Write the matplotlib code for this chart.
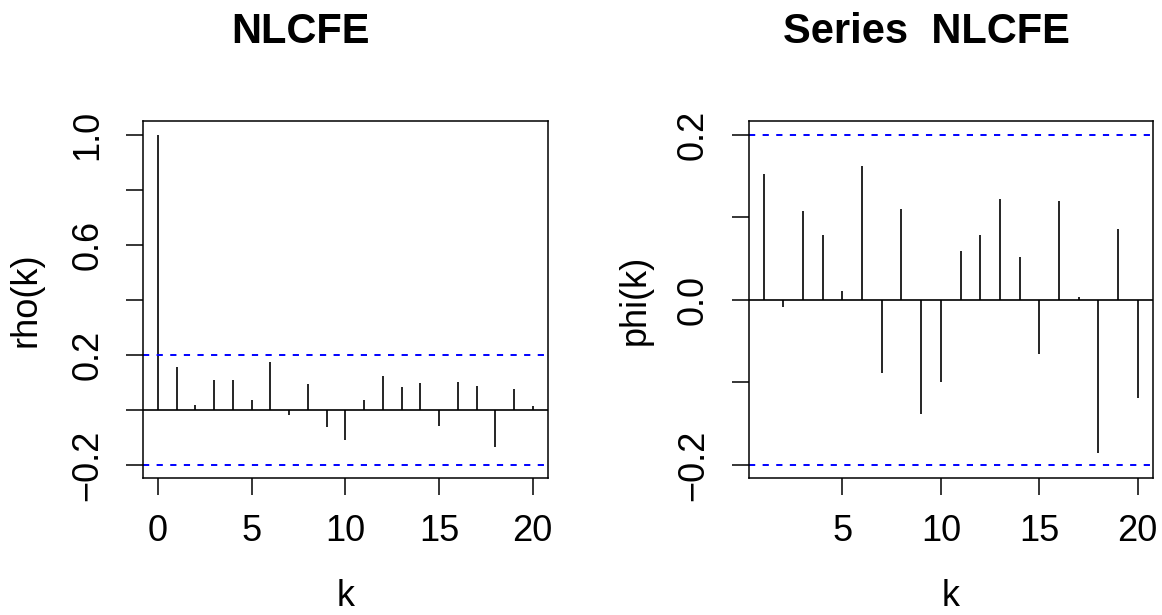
import matplotlib
matplotlib.use('Agg')
import matplotlib.pyplot as plt
from matplotlib import font_manager

# ---- data ----
acf_lags = list(range(0, 21))
acf_values = [1.0, 0.155, 0.018, 0.108, 0.109, 0.037, 0.173, -0.019, 0.094, -0.062,
              -0.109, 0.036, 0.124, 0.082, 0.097, -0.057, 0.103, 0.088, -0.133, 0.075, 0.015]
pacf_lags = list(range(1, 21))
pacf_values = [0.153, -0.0085, 0.108, 0.078, 0.0105, 0.162, -0.088, 0.110, -0.138, -0.100,
               0.059, 0.078, 0.122, 0.052, -0.065, 0.120, 0.003, -0.185, 0.086, -0.119]
conf_limit = 0.2

acf_xticks = [0, 5, 10, 15, 20]
pacf_xticks = [5, 10, 15, 20]
acf_yticks = [-0.2, 0.0, 0.2, 0.4, 0.6, 0.8, 1.0]
acf_yticklabels = ['\u22120.2', '', '0.2', '', '0.6', '', '1.0']
pacf_yticks = [-0.2, -0.1, 0.0, 0.1, 0.2]
pacf_yticklabels = ['\u22120.2', '', '0.0', '', '0.2']
titles = ['NLCFE', 'Series  NLCFE']
ylabels = ['rho(k)', 'phi(k)']
xlabel = 'k'


def has_font(name):
    try:
        font_manager.findfont(font_manager.FontProperties(family=name),
                              fallback_to_default=False)
        return True
    except Exception:
        return False


plt.rcParams['font.family'] = ['Liberation Sans', 'DejaVu Sans']
if has_font('Liberation Sans Narrow'):
    title_family = ['Liberation Sans Narrow', 'Liberation Sans']
    title_size = 33
else:
    title_family = ['Liberation Sans', 'DejaVu Sans']
    title_size = 30

W, H = 1162, 615
fig = plt.figure(figsize=(W / 100, H / 100), dpi=100)

def px_axes(x0, x1, ytop, ybot):
    return [x0 / W, 1 - ybot / H, (x1 - x0) / W, (ybot - ytop) / H]

ax1 = fig.add_axes(px_axes(143, 547.7, 121.5, 478.3))
ax2 = fig.add_axes(px_axes(748.7, 1152.7, 121.5, 478.3))

fs = 26
dash = (0, (3.2, 3.8))

for ax, lags, vals, xt, yt, ytl, xlim, ylim in [
    (ax1, acf_lags, acf_values, acf_xticks, acf_yticks, acf_yticklabels, (-0.8, 20.8), (-0.248, 1.048)),
    (ax2, pacf_lags, pacf_values, pacf_xticks, pacf_yticks, pacf_yticklabels, (0.24, 20.76), (-0.216, 0.216)),
]:
    ax.vlines(lags, 0, vals, colors='black', linewidth=1.2)
    ax.axhline(0, color='black', linewidth=1.2)
    ax.axhline(conf_limit, color='#0000ff', linewidth=1.4, linestyle=dash)
    ax.axhline(-conf_limit, color='#0000ff', linewidth=1.4, linestyle=dash)
    ax.set_xlim(*xlim)
    ax.set_ylim(*ylim)
    ax.set_xticks(xt)
    ax.set_xticklabels([str(v) for v in xt], fontsize=fs)
    ax.set_yticks(yt)
    ax.set_yticklabels(ytl, fontsize=fs, rotation=90, va='center')
    ax.tick_params(axis='both', direction='out', length=12.2, width=1.1, color='black')
    ax.tick_params(axis='x', pad=13.5)
    ax.tick_params(axis='y', pad=15)
    for sp in ax.spines.values():
        sp.set_linewidth(1.1)
        sp.set_color('black')

ax1.set_ylabel(ylabels[0], fontsize=fs)
ax2.set_ylabel(ylabels[1], fontsize=fs)
ax1.yaxis.set_label_coords(-0.247, 0.5)
ax2.yaxis.set_label_coords(-0.237, 0.5)
for ax in (ax1, ax2):
    ax.set_xlabel(xlabel, fontsize=fs)
    ax.xaxis.set_label_coords(0.5, -0.282)

ax1.set_title(titles[0], fontsize=title_size, fontweight='bold', family=title_family,
              x=(301 - 143) / 404.7, y=1 + (121.5 - 51.7) / 356.8, va='baseline')
ax2.set_title(titles[1], fontsize=title_size, fontweight='bold', family=title_family,
              x=(926 - 748.7) / 404.0, y=1 + (121.5 - 51.7) / 356.8, va='baseline')

fig.savefig('out.png', dpi=100)
